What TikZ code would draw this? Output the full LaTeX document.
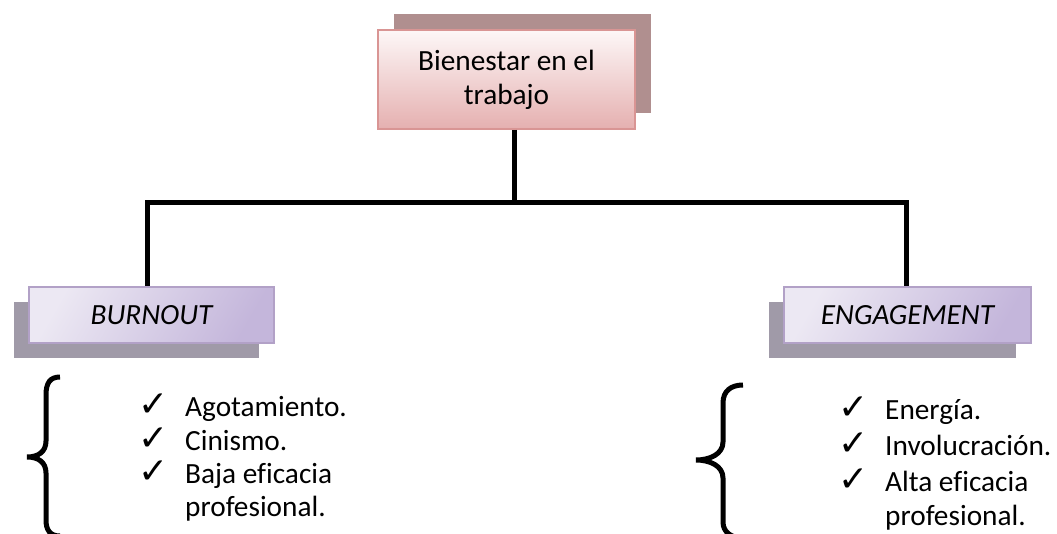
\documentclass[tikz,border=0pt]{standalone}
\usepackage{fontspec}
\setmainfont[Ligatures=NoCommon]{Carlito}
\newfontfamily\symfont{DejaVu Sans}
\usetikzlibrary{shadows}

\definecolor{rosetop}{RGB}{253,247,247}
\definecolor{rosebot}{RGB}{229,176,176}
\definecolor{roseline}{RGB}{217,149,148}
\definecolor{roseshade}{RGB}{176,143,143}
\definecolor{lilatop}{RGB}{236,232,243}
\definecolor{lilabot}{RGB}{196,182,219}
\definecolor{lilaline}{RGB}{178,161,199}
\definecolor{lilashade}{RGB}{160,154,168}

\newcommand{\chk}{{\symfont\fontsize{36}{36}\selectfont ✓}}

\tikzset{
  txt/.style={font=\fontsize{29.3}{34}\selectfont, inner sep=0pt},
  mainbox/.style={txt, draw=roseline, line width=2pt, top color=rosetop,
    bottom color=rosebot, minimum width=257pt, minimum height=99pt,
    align=center,
    drop shadow={shadow xshift=16pt, shadow yshift=16pt, fill=roseshade, opacity=1}},
  kindbox/.style={txt, draw=lilaline, line width=2pt, left color=lilatop,
    right color=lilabot, shading angle=60, minimum height=56pt,
    drop shadow={shadow xshift=-15pt, shadow yshift=-15pt, fill=lilashade, opacity=1}},
  tick/.style={inner sep=0pt, anchor=base west},
  item/.style={txt, anchor=base west},
  conn/.style={line width=5pt, black},
  brace/.style={line width=5pt, black}
}

\begin{document}
\begin{tikzpicture}[x=1pt, y=-1pt]
  \useasboundingbox (0,0) rectangle (1057,534);

  % boxes
  \node[mainbox] (top) at (506.5,79.5) {Bienestar en el\\trabajo};
  \node[kindbox, minimum width=245pt] (burn) at (151.5,315) {\itshape BURNOUT};
  \node[kindbox, minimum width=247pt] (eng) at (907.5,315) {\itshape ENGAGEMENT};

  % tree lines
  \coordinate (bar) at (514,203);
  \coordinate (lj) at (147,203);
  \coordinate (rj) at (906,203);
  \draw[conn] (top.south -| bar) -- (bar);
  \draw[conn] (lj |- burn.north) -- (lj) -- (rj) -- (rj |- eng.north);

  % braces
  \draw[brace] (60,377) .. controls (50,377) and (46,383) .. (46,395)
    -- (46,441) .. controls (46,452) and (38,457) .. (27,457)
    .. controls (38,457) and (46,462) .. (46,473)
    -- (46,520) .. controls (46,530) and (50,536) .. (60,536);
  \draw[brace] (743,385) .. controls (731,385) and (723,391) .. (723,403)
    -- (723,442) .. controls (723,454) and (710,460) .. (696,460)
    .. controls (710,460) and (723,466) .. (723,478)
    -- (723,522) .. controls (723,532) and (731,538) .. (743,538);

  % burnout list
  \node[tick] (bt1) at (138,416) {\chk};
  \node[tick] (bt2) at (138,450) {\chk};
  \node[tick] (bt3) at (138,483) {\chk};
  \node[item] (bo1) at (185,416) {Agotamiento.};
  \node[item] (bo2) at (185,450) {Cinismo.};
  \node[item] (bo3) at (185,483) {Baja eficacia};
  \node[item] (bo4) at (185,516) {profesional.};

  % engagement list
  \node[tick] (et1) at (838,419) {\chk};
  \node[tick] (et2) at (838,455) {\chk};
  \node[tick] (et3) at (838,491) {\chk};
  \node[item] (en1) at (885,419) {Energía.};
  \node[item] (en2) at (885,455) {Involucración.};
  \node[item] (en3) at (885,491) {Alta eficacia};
  \node[item] (en4) at (885,525) {profesional.};
\end{tikzpicture}
\end{document}
